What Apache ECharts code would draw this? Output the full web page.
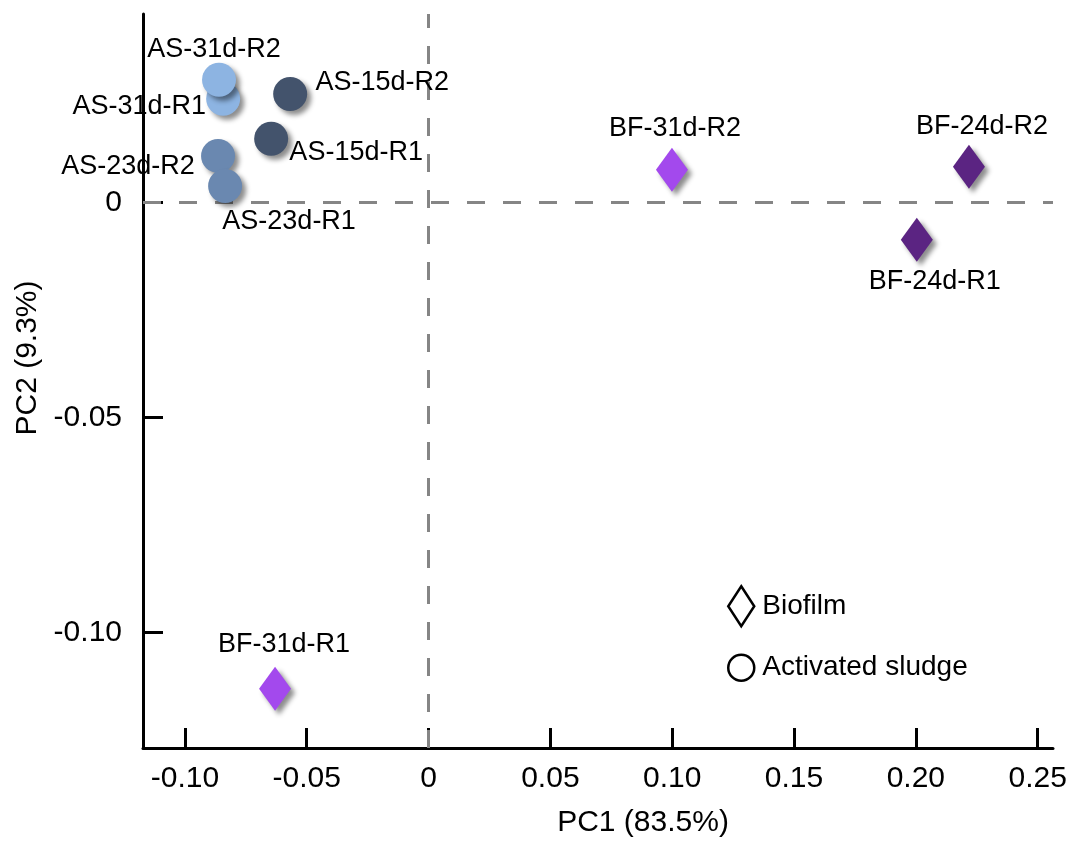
<!DOCTYPE html>
<html>
<head>
<meta charset="utf-8">
<title>PCA – Biofilm vs Activated sludge</title>
<script src="https://cdn.jsdelivr.net/npm/echarts@6/dist/echarts.min.js"></script>
<style>
  html, body { margin: 0; padding: 0; background: #fff; }
  #chart { width: 1074px; height: 847px; }
</style>
</head>
<body>
<div id="chart"></div>
<script>
// Activated sludge samples (circles)
const asNames = ['AS-15d-R1', 'AS-15d-R2', 'AS-23d-R2', 'AS-23d-R1', 'AS-31d-R1', 'AS-31d-R2'];
const asPC1   = [-0.0646, -0.0568, -0.0864, -0.0835, -0.0843, -0.0860];
const asPC2   = [ 0.0148,  0.0252,  0.0108,  0.0038,  0.0241,  0.0285];

// Biofilm samples (diamonds)
const bfNames = ['BF-31d-R1', 'BF-31d-R2', 'BF-24d-R1', 'BF-24d-R2'];
const bfPC1   = [-0.0630, 0.0999, 0.2004, 0.2218];
const bfPC2   = [-0.1131, 0.0076, -0.0087, 0.0083];

// Axis ticks
const xTicks = [-0.10, -0.05, 0, 0.05, 0.10, 0.15, 0.20, 0.25];
const yTicks = [-0.10, -0.05, 0];

// Colour per sampling group
const groupColors = {
  'AS-31d': '#8DB4E2',
  'AS-23d': '#6A88B0',
  'AS-15d': '#43536C',
  'BF-31d': '#A349ED',
  'BF-24d': '#5B2482'
};

// Label placement relative to each marker centre (px)
const labelOffsets = {
  'AS-31d-R2': [-5, -30],
  'AS-31d-R1': [-84, 8],
  'AS-15d-R2': [92, -11],
  'AS-15d-R1': [85, 14],
  'AS-23d-R2': [-90, 11],
  'AS-23d-R1': [64, 36],
  'BF-31d-R2': [3, -41],
  'BF-24d-R2': [13, -40],
  'BF-24d-R1': [18, 42],
  'BF-31d-R1': [9, -44]
};

const FONT = '"Liberation Sans", Arial, Helvetica, sans-serif';

function buildPoints(names, xs, ys) {
  return names.map((n, i) => ({
    name: n,
    value: [xs[i], ys[i]],
    itemStyle: { color: groupColors[n.slice(0, 6)] },
    label: { offset: labelOffsets[n] }
  }));
}

const tickFmt = v => (Math.abs(v) < 1e-9 ? '0' : v.toFixed(2));

const markerStyle = {
  opacity: 1,
  shadowBlur: 5,
  shadowOffsetX: 4,
  shadowOffsetY: 4,
  shadowColor: 'rgba(0,0,0,0.45)'
};

const pointLabel = {
  show: true,
  position: 'inside',
  align: 'center',
  verticalAlign: 'middle',
  formatter: p => p.name,
  color: '#000',
  opacity: 1,
  fontFamily: FONT,
  fontSize: 27,
  textBorderWidth: 0
};

const legendIcon = { color: '#fff', borderColor: '#000', borderWidth: 2.5, shadowBlur: 0, opacity: 1 };

const chart = echarts.init(document.getElementById('chart'), null, { renderer: 'canvas' });

chart.setOption({
  animation: false,
  backgroundColor: '#fff',
  grid: { left: 143, right: 21, top: 14, bottom: 99, outerBoundsMode: 'none' },
  legend: {
    orient: 'vertical',
    left: 727,
    top: 585,
    padding: 0,
    itemWidth: 26,
    itemHeight: 40,
    itemGap: 26,
    selectedMode: false,
    textStyle: { fontFamily: FONT, fontSize: 28, color: '#000', padding: [0, 0, 0, 3] },
    data: [
      { name: 'Biofilm', icon: 'diamond', itemStyle: legendIcon },
      { name: 'Activated sludge', icon: 'circle', itemStyle: legendIcon }
    ]
  },
  xAxis: {
    type: 'value',
    min: -0.1172,
    max: 0.2563,
    name: 'PC1 (83.5%)',
    nameLocation: 'middle',
    nameGap: 60,
    nameTextStyle: { fontFamily: FONT, fontSize: 30, color: '#000', padding: [0, 0, 0, 90] },
    axisLine: { show: true, onZero: false, lineStyle: { color: '#000', width: 3 } },
    axisTick: { show: true, inside: true, length: 20, customValues: xTicks,
                lineStyle: { color: '#000', width: 3 } },
    axisLabel: { show: true, customValues: xTicks, formatter: tickFmt, margin: 16,
                 fontFamily: FONT, fontSize: 30, color: '#000' },
    splitLine: { show: false }
  },
  yAxis: {
    type: 'value',
    min: -0.1269,
    max: 0.0438,
    name: 'PC2 (9.3%)',
    nameLocation: 'middle',
    nameGap: 98,
    nameRotate: 90,
    nameTextStyle: { fontFamily: FONT, fontSize: 30, color: '#000', padding: [0, 0, 0, 46] },
    axisLine: { show: true, onZero: false, lineStyle: { color: '#000', width: 3 } },
    axisTick: { show: true, inside: true, length: 20, customValues: yTicks,
                lineStyle: { color: '#000', width: 3 } },
    axisLabel: { show: true, customValues: yTicks, formatter: tickFmt, margin: 21,
                 fontFamily: FONT, fontSize: 30, color: '#000' },
    splitLine: { show: false }
  },
  series: [
    {
      name: 'Activated sludge',
      type: 'scatter',
      symbol: 'circle',
      symbolSize: 34,
      z: 3,
      itemStyle: markerStyle,
      label: pointLabel,
      data: buildPoints(asNames, asPC1, asPC2),
      markLine: {
        silent: true,
        symbol: 'none',
        label: { show: false },
        lineStyle: { color: '#858585', width: 3, type: [18, 18], opacity: 1 },
        data: [{ xAxis: 0 }, { yAxis: 0 }],
        z: 1
      }
    },
    {
      name: 'Biofilm',
      type: 'scatter',
      symbol: 'diamond',
      symbolSize: [32, 44],
      symbolKeepAspect: false,
      z: 3,
      itemStyle: markerStyle,
      label: pointLabel,
      data: buildPoints(bfNames, bfPC1, bfPC2)
    }
  ]
});
</script>
</body>
</html>
